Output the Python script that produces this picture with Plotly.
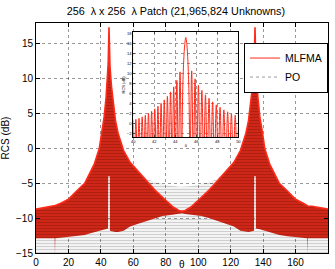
import plotly.graph_objects as go

# ---------------- main chart data ----------------
theta = [0, 5, 10, 11.5, 11.7, 11.9, 15, 20, 25, 30,
         33, 36, 39, 40.5, 42, 43.2, 44.4, 44.5, 45, 45.5,
         45.6, 46.5, 47.5, 49, 50.6, 54, 58, 63, 68, 73,
         78, 84, 88, 90,
         92, 96, 102, 107, 112, 117, 122, 126, 129.4, 131,
         132.5, 133.5, 134.4, 134.5, 135, 135.5, 135.6, 136.8, 138, 139.5,
         141, 144, 147, 150, 155, 160, 165, 167.1, 167.3, 167.5,
         170, 175, 180]

mlfma_upper = [-8.7, -8.5, -8.3, -8.25, -8.2, -8.2, -7.9, -7.3, -6.1, -5.0,
               -3.6, -2.2, 0.0, 2.4, 4.5, 7.3, 11.5, 12.2, 17.4, 12.2,
               11.8, 9.0, 6.8, 4.0, 2.2, -0.3, -2.0, -3.3, -4.6, -5.9,
               -7.0, -8.3, -8.9, -9.0,
               -8.9, -8.3, -7.0, -5.9, -4.6, -3.3, -2.0, -0.3, 2.2, 4.0,
               6.8, 9.0, 11.8, 12.2, 17.4, 12.2, 11.5, 7.3, 4.5, 2.4,
               0.0, -2.2, -3.6, -5.0, -6.1, -7.3, -7.9, -8.2, -8.2, -8.25,
               -8.3, -8.5, -8.7]

mlfma_lower = [-12.9, -12.9, -12.9, -12.9, -15.2, -12.9, -12.8, -12.7, -12.6, -12.4,
               -12.2, -12.0, -11.8, -11.7, -11.6, -11.5, -11.5, -4.0, -4.0, -4.0,
               -11.8, -11.8, -11.9, -12.0, -12.0, -11.8, -11.2, -10.8, -10.4, -10.0,
               -9.7, -9.5, -9.4, -9.3,
               -9.4, -9.5, -9.7, -10.0, -10.4, -10.8, -11.2, -11.8, -12.0, -12.0,
               -11.9, -11.8, -11.8, -4.0, -4.0, -4.0, -11.5, -11.5, -11.6, -11.7,
               -11.8, -12.0, -12.2, -12.4, -12.6, -12.7, -12.8, -12.9, -15.2, -12.9,
               -12.9, -12.9, -12.9]

po_upper = [-8.7, -8.5, -8.3, -8.25, -8.2, -8.2, -7.9, -7.3, -6.1, -5.0,
            -3.6, -2.2, 0.0, 2.4, 4.5, 7.3, 11.5, 12.2, 17.4, 12.2,
            11.8, 9.0, 6.8, 4.0, 2.2, -0.3, -2.0, -3.3, -4.3, -4.8,
            -5.1, -5.4, -5.5, -5.5,
            -5.5, -5.4, -5.1, -4.8, -4.3, -3.3, -2.0, -0.3, 2.2, 4.0,
            6.8, 9.0, 11.8, 12.2, 17.4, 12.2, 11.5, 7.3, 4.5, 2.4,
            0.0, -2.2, -3.6, -5.0, -6.1, -7.3, -7.9, -8.2, -8.2, -8.25,
            -8.3, -8.5, -8.7]

x_ticks = [0, 20, 40, 60, 80, 100, 120, 140, 160, 180]
y_ticks = [-15, -10, -5, 0, 5, 10, 15]
Y_MIN, Y_MAX = -15, 18

# ---------------- inset data (zoom 40..50 deg) ----------------
theta_in = [39.8, 39.95, 40.1, 40.25, 40.4, 40.55, 40.7, 40.85, 41.0, 41.15,
            41.3, 41.45, 41.6, 41.75, 41.9, 42.05, 42.2, 42.35, 42.5, 42.65,
            42.8, 42.95, 43.1, 43.25, 43.4, 43.55, 43.7, 43.85, 44.0, 44.15,
            44.3, 44.45, 44.6, 44.7, 44.8, 44.9, 45.0, 45.1, 45.2, 45.3,
            45.4, 45.56, 45.72, 45.88, 46.04, 46.2, 46.36, 46.53, 46.7, 46.87,
            47.04, 47.21, 47.38, 47.55, 47.72, 47.9, 48.08, 48.26, 48.44, 48.62,
            48.8, 48.98, 49.16, 49.34, 49.52, 49.7, 49.88, 50.06, 50.24]
rcs_in = [-8, 0.6, -8, 0.8, -8, 1.0, -8, 1.3, -8, 1.6,
          -8, 2.0, -8, 2.4, -8, 2.9, -8, 3.4, -8, 4.0,
          -8, 4.7, -8, 5.4, -8, 6.3, -8, 7.3, -8, 8.6,
          -8, 10.3, -8, 6.0, 12.5, 15.8, 17.2, 15.8, 12.5, 6.0,
          -8, 10.5, -8, 8.9, -8, 7.6, -8, 6.6, -8, 5.7,
          -8, 5.0, -8, 4.3, -8, 3.7, -8, 3.2, -8, 2.7,
          -8, 2.3, -8, 1.9, -8, 1.6, -8, 1.3, -8]
in_x_ticks = [40, 42, 44, 46, 48, 50]
in_y_ticks = [-2, 0, 2, 4, 6, 8, 10, 12, 14, 16, 18]

RED = "#ff2a1a"
FILL_RED = "#d82818"
FONT = "Liberation Sans"

fig = go.Figure()

# MLFMA band (dense oscillation shown as envelope band)
fig.add_trace(go.Scatter(x=theta, y=mlfma_lower, mode="lines",
                         line=dict(width=0, color=FILL_RED), showlegend=False,
                         hoverinfo="skip"))
fig.add_trace(go.Scatter(x=theta, y=mlfma_upper, mode="lines", fill="tonexty",
                         fillcolor=FILL_RED, line=dict(width=0, color=FILL_RED),
                         showlegend=False, hoverinfo="skip"))
# PO dotted texture (from bottom up to PO envelope)
fig.add_trace(go.Scatter(x=theta, y=[Y_MIN - 1] * len(theta), mode="lines",
                         line=dict(width=0, color="gray"), showlegend=False,
                         hoverinfo="skip"))
fig.add_trace(go.Scatter(x=theta, y=po_upper, mode="lines", fill="tonexty",
                         fillcolor="rgba(0,0,0,0)",
                         fillpattern=dict(shape="-", fgcolor="rgba(0,0,0,0.38)",
                                          bgcolor="rgba(0,0,0,0)", size=3, solidity=0.5),
                         line=dict(width=0, color="gray"), showlegend=False,
                         hoverinfo="skip"))
# bright red top edge of MLFMA
fig.add_trace(go.Scatter(x=theta, y=mlfma_upper, mode="lines",
                         line=dict(width=1.6, color=RED), showlegend=False,
                         hoverinfo="skip"))

# legend entries
fig.add_trace(go.Scatter(x=[None], y=[None], mode="lines", name="MLFMA",
                         line=dict(color=RED, width=1)))
fig.add_trace(go.Scatter(x=[None], y=[None], mode="lines", name="PO",
                         line=dict(color="#999999", width=1, dash="dot")))

# inset
fig.add_trace(go.Scatter(x=theta_in, y=rcs_in, mode="lines", xaxis="x2", yaxis="y2",
                         line=dict(color=RED, width=1, shape="spline", smoothing=1),
                         showlegend=False, hoverinfo="skip"))

grid_kw = dict(showgrid=True, gridcolor="rgba(0,0,0,0.4)", griddash="dot", gridwidth=1,
               showline=True, linecolor="black", linewidth=1, mirror="ticks",
               ticks="inside", ticklen=4, tickcolor="black", zeroline=False,
               automargin=False)

fig.update_layout(
    width=335, height=269,
    margin=dict(l=36, r=7.4, t=22.5, b=16, pad=0),
    paper_bgcolor="white", plot_bgcolor="white",
    font=dict(family=FONT, size=10, color="black"),
    title=dict(text="256  λ x 256  λ Patch (21,965,824 Unknowns)",
               x=0.525, xref="container", xanchor="center",
               y=0.957, yref="container", yanchor="middle",
               font=dict(family=FONT, size=10.8, color="black")),
    xaxis=dict(range=[0, 180], tickvals=x_ticks, ticktext=[str(v) for v in x_ticks],
               tickfont=dict(size=10), **grid_kw),
    yaxis=dict(range=[Y_MIN, Y_MAX], tickvals=y_ticks,
               title=dict(text="RCS (dB)", standoff=4, font=dict(size=10)),
               tickfont=dict(size=10), **grid_kw),
    xaxis2=dict(domain=[0.333, 0.693], anchor="y2", range=[40, 50],
                tickvals=in_x_ticks, tickfont=dict(size=4),
                title=dict(text="θ", standoff=1, font=dict(size=4)),
                showgrid=True, gridcolor="rgba(0,0,0,0.4)", griddash="dot", gridwidth=1,
                showline=True, linecolor="black", linewidth=1, mirror="ticks",
                ticks="inside", ticklen=2, zeroline=False, automargin=False),
    yaxis2=dict(domain=[0.503, 0.959], anchor="x2", range=[-2.8, 18.2],
                tickvals=in_y_ticks, tickfont=dict(size=4),
                title=dict(text="RCS (dB)", standoff=1, font=dict(size=4)),
                showgrid=True, gridcolor="rgba(0,0,0,0.4)", griddash="dot", gridwidth=1,
                showline=True, linecolor="black", linewidth=1, mirror="ticks",
                ticks="inside", ticklen=2, zeroline=False, automargin=False),
    legend=dict(x=1, y=0.915, xanchor="right", yanchor="top",
                bgcolor="white", bordercolor="black", borderwidth=1,
                font=dict(family=FONT, size=10.5), tracegroupgap=0,
                traceorder="normal", itemwidth=30),
    showlegend=True,
    annotations=[dict(text="θ", xref="paper", yref="paper", x=0.5, y=-0.05,
                      xanchor="center", yanchor="middle", showarrow=False,
                      font=dict(family=FONT, size=10, color="black"))],
)

fig.write_html("out.html")
